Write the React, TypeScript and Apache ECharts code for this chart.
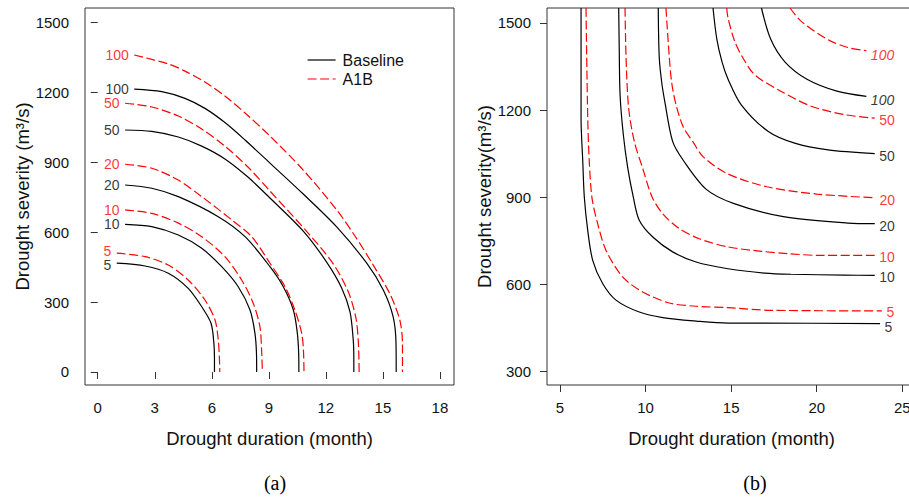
import React, { useEffect, useRef } from "react";
import * as echarts from "echarts";

// Return-period levels (years)
const levels = ["5", "10", "20", "50", "100"];

// ---- Panel (a): [drought duration (month), drought severity (m3/s)] ----
const aBaseline5 = [[1.0, 467], [2.49, 455], [3.71, 424], [4.76, 359], [5.47, 280], [5.96, 209], [6.11, 123], [6.14, 60], [6.14, 0]];
const aBaseline10 = [[1.44, 634], [2.84, 624], [4.24, 588], [5.47, 531], [6.52, 452], [7.39, 366], [8.01, 266], [8.27, 166], [8.35, 80], [8.36, 0]];
const aBaseline20 = [[1.44, 803], [2.84, 789], [4.24, 753], [6.34, 667], [7.75, 581], [9.06, 452], [9.76, 366], [10.29, 266], [10.5, 166], [10.57, 80], [10.58, 0]];
const aBaseline50 = [[1.44, 1039], [2.84, 1033], [4.24, 1009], [5.47, 970], [6.69, 915], [7.9, 837], [9.06, 747], [10.81, 605], [12.04, 472], [12.83, 361], [13.27, 258], [13.44, 137], [13.47, 60], [13.47, 0]];
const aBaseline100 = [[1.92, 1215], [3.37, 1204], [4.59, 1175], [5.64, 1132], [6.69, 1071], [7.75, 996], [9.06, 897], [10.81, 764], [12.57, 623], [14.15, 467], [15.02, 352], [15.54, 237], [15.69, 123], [15.7, 0]];

const aA1B5 = [[1.0, 510], [2.49, 495], [3.71, 459], [4.76, 395], [5.64, 309], [6.17, 223], [6.34, 137], [6.4, 60], [6.42, 0]];
const aA1B10 = [[1.44, 696], [2.84, 681], [4.24, 639], [5.47, 581], [6.69, 495], [7.57, 395], [8.18, 295], [8.53, 195], [8.62, 94], [8.66, 0]];
const aA1B20 = [[1.44, 892], [2.84, 875], [4.24, 824], [5.47, 753], [7.05, 653], [8.1, 581], [9.06, 467], [9.85, 366], [10.37, 266], [10.73, 166], [10.82, 94], [10.85, 0]];
const aA1B50 = [[1.44, 1154], [2.84, 1138], [4.24, 1099], [5.47, 1043], [6.69, 970], [7.9, 880], [9.06, 777], [11.16, 588], [12.39, 464], [13.18, 344], [13.58, 232], [13.71, 125], [13.75, 0]];
const aA1B100 = [[1.92, 1361], [3.71, 1323], [4.59, 1292], [5.64, 1245], [6.69, 1185], [7.75, 1112], [9.06, 1013], [10.81, 867], [12.57, 696], [13.53, 584], [14.49, 459], [15.37, 335], [15.9, 219], [16.03, 116], [16.03, 0]];

// ---- Panel (b): [drought duration (month), drought severity (m3/s)] ----
const bBaseline5 = [[6.23, 1551], [6.23, 1172], [6.33, 1023], [6.42, 901], [6.62, 786], [6.91, 683], [7.49, 603], [8.27, 546], [9.63, 505], [11.0, 486], [12.95, 474], [14.82, 467], [16.76, 467], [23.7, 465]];
const bBaseline10 = [[8.43, 1551], [8.46, 1413], [8.51, 1252], [8.7, 1115], [8.96, 1000], [9.28, 901], [9.63, 821], [10.42, 763], [11.58, 712], [12.95, 677], [14.82, 654], [16.96, 639], [18.51, 635], [21.63, 632], [23.39, 631]];
const bBaseline20 = [[10.74, 1551], [10.8, 1379], [10.95, 1292], [11.12, 1230], [11.58, 1092], [12.19, 1028], [13.53, 928], [15.13, 879], [18.05, 833], [21.83, 811], [23.39, 809]];
const bBaseline50 = [[13.94, 1551], [14.17, 1441], [14.47, 1365], [14.82, 1306], [15.59, 1218], [17.15, 1127], [18.71, 1086], [20.66, 1063], [23.39, 1050]];
const bBaseline100 = [[16.77, 1551], [17.3, 1445], [18.15, 1365], [19.43, 1306], [21.18, 1265], [22.9, 1247]];

const bA1B5 = [[6.52, 1551], [6.62, 1172], [6.71, 1023], [6.87, 897], [7.2, 809], [7.69, 717], [8.66, 626], [9.83, 574], [11.39, 536], [12.95, 525], [14.82, 520], [17.35, 511], [23.81, 509]];
const bA1B10 = [[8.8, 1551], [8.86, 1379], [9.01, 1207], [9.34, 1092], [9.83, 1000], [10.38, 901], [11.0, 843], [11.97, 792], [13.14, 757], [14.82, 729], [16.76, 714], [18.32, 706], [20.07, 700], [23.39, 700]];
const bA1B20 = [[11.19, 1551], [11.39, 1379], [11.53, 1292], [11.78, 1218], [12.2, 1142], [12.75, 1092], [13.37, 1039], [14.74, 982], [17.08, 936], [20.0, 911], [23.4, 898]];
const bA1B50 = [[14.74, 1551], [14.82, 1516], [15.21, 1436], [15.69, 1379], [16.38, 1321], [17.93, 1264], [19.68, 1213], [21.63, 1184], [23.39, 1172]];
const bA1B100 = [[18.44, 1551], [19.1, 1505], [20.66, 1442], [21.83, 1415], [22.9, 1404]];

const aBaseline = [aBaseline5, aBaseline10, aBaseline20, aBaseline50, aBaseline100];
const aA1B = [aA1B5, aA1B10, aA1B20, aA1B50, aA1B100];
const bBaseline = [bBaseline5, bBaseline10, bBaseline20, bBaseline50, bBaseline100];
const bA1B = [bA1B5, bA1B10, bA1B20, bA1B50, bA1B100];

// Tick labels
const aXTicks = [0, 3, 6, 9, 12, 15, 18];
const aYTicks = [0, 300, 600, 900, 1200, 1500];
const bXTicks = [5, 10, 15, 20, 25];
const bYTicks = [300, 600, 900, 1200, 1500];

const seriesNames = ["Baseline", "A1B"];
const panelLabels = ["(a)", "(b)"];
const xTitle = "Drought duration (month)";
const yTitles = ["Drought severity (m³/s)", "Drought severity(m³/s)"];

const SANS = '"Liberation Sans", Arial, Helvetica, sans-serif';
const SERIF = '"Liberation Serif", "Times New Roman", serif';
const BLACK = "#000000";
const RED = "#ff0000";
const BOX = "#333333";

const plain = (v: number) => String(v);

function makeX(gridIndex: number, min: number, max: number, ticks: number[]) {
  return {
    type: "value",
    gridIndex,
    min,
    max,
    name: xTitle,
    nameLocation: "middle",
    nameGap: 44,
    nameTextStyle: { fontSize: 18.5, color: "#111", fontFamily: SANS },
    axisLine: { show: false },
    axisTick: { show: true, length: 7, lineStyle: { color: BOX, width: 1 }, customValues: ticks },
    axisLabel: { show: true, customValues: ticks, formatter: plain, margin: 15, fontSize: 15, color: "#111", fontFamily: SANS },
    splitLine: { show: false },
  };
}

function makeY(gridIndex: number, min: number, max: number, ticks: number[], name: string, gap: number) {
  return {
    type: "value",
    gridIndex,
    min,
    max,
    name,
    nameLocation: "middle",
    nameRotate: 90,
    nameGap: gap,
    nameTextStyle: { fontSize: 18.5, color: "#111", fontFamily: SANS },
    axisLine: { show: false },
    axisTick: { show: true, length: 7, lineStyle: { color: BOX, width: 1 }, customValues: ticks },
    axisLabel: { show: true, customValues: ticks, formatter: plain, margin: 16, fontSize: 15, color: "#111", fontFamily: SANS },
    splitLine: { show: false },
  };
}

function makeLine(name: string, data: number[][], dashed: boolean, idx: number) {
  const color = dashed ? RED : BLACK;
  return {
    type: "line",
    name,
    data,
    xAxisIndex: idx,
    yAxisIndex: idx,
    symbol: "none",
    showSymbol: false,
    smooth: 0.3,
    clip: true,
    silent: true,
    z: dashed ? 3 : 2,
    itemStyle: { color },
    lineStyle: { color, width: 1.2, type: dashed ? [9, 3.5] : "solid" },
  };
}

function makeLabels(idx: number, base: number[][][], a1b: number[][][], atStart: boolean) {
  const items: any[] = [];
  levels.forEach((lv, i) => {
    [base[i], a1b[i]].forEach((curve, k) => {
      const pt = atStart ? curve[0] : curve[curve.length - 1];
      const italic = !atStart && lv === "100";
      const step = atStart ? 2 : 1;
      const nudge = lv === "5" ? (k === 0 ? step : -step) : 0;
      items.push({
        value: pt,
        label: {
          show: true,
          formatter: lv,
          position: atStart ? "left" : "right",
          distance: atStart ? 5 : 4,
          offset: atStart ? [0, nudge] : [0, (italic ? 4 : 2) + nudge],
          fontSize: 14,
          fontStyle: italic ? "italic" : "normal",
          fontFamily: SANS,
          color: k === 0 ? BLACK : RED,
        },
      });
    });
  });
  return {
    type: "scatter",
    xAxisIndex: idx,
    yAxisIndex: idx,
    symbolSize: 1,
    silent: true,
    z: 5,
    itemStyle: { color: "rgba(0,0,0,0)" },
    data: items,
  };
}

export default function App() {
  const ref = useRef<HTMLDivElement>(null);

  useEffect(() => {
    if (!ref.current) return;
    const chart = echarts.init(ref.current, null, { renderer: "svg" });

    const series: any[] = [];
    levels.forEach((_, i) => {
      series.push(makeLine(seriesNames[0], aBaseline[i], false, 0));
      series.push(makeLine(seriesNames[1], aA1B[i], true, 0));
    });
    levels.forEach((_, i) => {
      series.push(makeLine(seriesNames[0], bBaseline[i], false, 1));
      series.push(makeLine(seriesNames[1], bA1B[i], true, 1));
    });
    series.push(makeLabels(0, aBaseline, aA1B, true));
    series.push(makeLabels(1, bBaseline, bA1B, false));

    chart.setOption({
      animation: false,
      backgroundColor: "#ffffff",
      textStyle: { fontFamily: SANS },
      grid: [
        { left: 85, top: 8, width: 369, height: 377, show: true, borderColor: BOX, borderWidth: 1, backgroundColor: "transparent" },
        { left: 547, top: 8, width: 369, height: 377, show: true, borderColor: BOX, borderWidth: 1, backgroundColor: "transparent" },
      ],
      xAxis: [makeX(0, -0.67, 18.74, aXTicks), makeX(1, 4.24, 25.8, bXTicks)],
      yAxis: [makeY(0, -56, 1563, aYTicks, yTitles[0], 50), makeY(1, 254, 1551, bYTicks, yTitles[1], 48)],
      legend: {
        data: seriesNames,
        orient: "vertical",
        left: 302,
        top: 47,
        itemWidth: 28,
        itemHeight: 14,
        itemGap: 3,
        selectedMode: false,
        itemStyle: { opacity: 0, borderWidth: 0 },
        lineStyle: { width: 1.2 },
        textStyle: { fontSize: 16, color: "#111", fontFamily: SANS, padding: [0, 0, 0, 2] },
      },
      graphic: [
        { type: "text", x: 275, y: 483, style: { text: panelLabels[0], fontSize: 20, fontFamily: SERIF, fill: "#000", align: "center", verticalAlign: "middle" } },
        { type: "text", x: 755, y: 483, style: { text: panelLabels[1], fontSize: 20, fontFamily: SERIF, fill: "#000", align: "center", verticalAlign: "middle" } },
      ],
      series,
    });

    return () => chart.dispose();
  }, []);

  return (
    <div style={{ position: "fixed", left: 0, top: 0, width: 909, height: 497, overflow: "hidden", background: "#fff" }}>
      <div ref={ref} style={{ width: 920, height: 497 }} />
    </div>
  );
}
